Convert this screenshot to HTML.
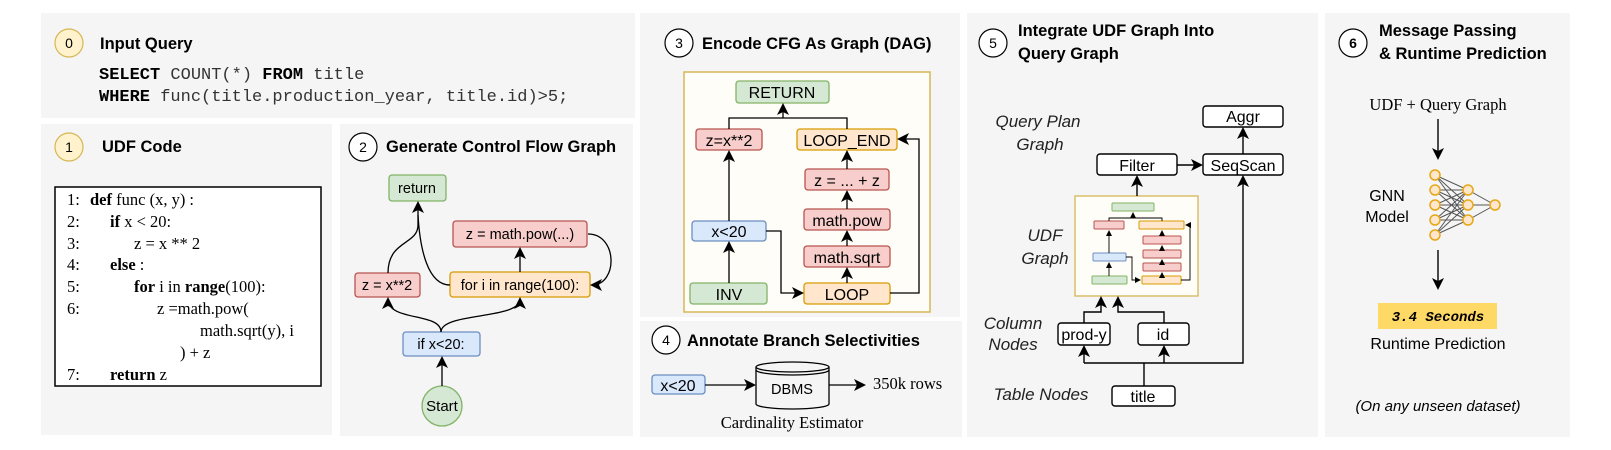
<!DOCTYPE html>
<html><head><meta charset="utf-8"><style>
html,body{margin:0;padding:0;background:#fff;width:1611px;height:450px;overflow:hidden}
svg{display:block}
.t{font-family:"Liberation Sans",sans-serif}
.b{font-family:"Liberation Sans",sans-serif;font-weight:bold;font-size:16.5px}
.m{font-family:"Liberation Mono",monospace;font-size:17px;fill:#333}
.mb{font-weight:bold;fill:#000}
.s{font-family:"Liberation Serif",serif;font-size:16.5px}
.n{font-family:"Liberation Sans",sans-serif;font-size:14.5px;text-anchor:middle}
.n3{font-family:"Liberation Sans",sans-serif;font-size:16px;text-anchor:middle}
.i{font-family:"Liberation Sans",sans-serif;font-style:italic;font-size:17px;text-anchor:middle;fill:#222}
</style></head><body>
<svg width="1611" height="450" viewBox="0 0 1611 450">
<defs>
<marker id="a" markerWidth="12" markerHeight="12" refX="10" refY="6" orient="auto" markerUnits="userSpaceOnUse"><path d="M0,0 L12,6 L0,12 L3,6 z" fill="#000"/></marker>
<marker id="s" markerWidth="6" markerHeight="6" refX="5" refY="3" orient="auto" markerUnits="userSpaceOnUse"><path d="M0,0 L6,3 L0,6 z" fill="#000"/></marker>
</defs>
<g fill="#f5f5f5">
<rect x="41" y="13" width="594" height="105"/>
<rect x="41" y="124" width="291" height="311"/>
<rect x="340" y="124" width="293" height="312"/>
<rect x="640" y="13" width="320" height="304"/>
<rect x="640" y="321" width="322" height="116"/>
<rect x="967" y="13" width="351" height="424"/>
<rect x="1325" y="13" width="245" height="424"/>
</g>
<!-- panel 0 -->
<circle cx="69" cy="43" r="14" fill="#fff2cc" stroke="#d6b656" stroke-width="1.2"/>
<text x="69" y="48" class="t" font-size="14" text-anchor="middle">0</text>
<text x="100" y="49" class="b">Input Query</text>
<text x="99" y="79" class="m"><tspan class="mb">SELECT</tspan> COUNT(*) <tspan class="mb">FROM</tspan> title</text>
<text x="99" y="101" class="m"><tspan class="mb">WHERE</tspan> func(title.production_year, title.id)&gt;5;</text>
<!-- panel 1 -->
<circle cx="69" cy="147" r="14" fill="#fff2cc" stroke="#d6b656" stroke-width="1.2"/>
<text x="69" y="152" class="t" font-size="14" text-anchor="middle">1</text>
<text x="102" y="152" class="b">UDF Code</text>
<rect x="55" y="187" width="266" height="199" fill="#fff" stroke="#000" stroke-width="1.5"/>
<g class="s">
<text x="67" y="205">1:</text><text x="90" y="205"><tspan font-weight="bold">def</tspan> func (x, y) :</text>
<text x="67" y="227">2:</text><text x="110" y="227"><tspan font-weight="bold">if</tspan> x &lt; 20:</text>
<text x="67" y="249">3:</text><text x="134" y="249">z = x ** 2</text>
<text x="67" y="270">4:</text><text x="110" y="270" font-weight="bold">else <tspan font-weight="normal">:</tspan></text>
<text x="67" y="292">5:</text><text x="134" y="292"><tspan font-weight="bold">for</tspan> i in <tspan font-weight="bold">range</tspan>(100):</text>
<text x="67" y="314">6:</text><text x="157" y="314">z =math.pow(</text>
<text x="200" y="336">math.sqrt(y), i</text>
<text x="180" y="358">) + z</text>
<text x="67" y="380">7:</text><text x="110" y="380"><tspan font-weight="bold">return</tspan> z</text>
</g>
<!-- panel 2 -->
<circle cx="363" cy="147" r="14" fill="#fff" stroke="#000" stroke-width="1.2"/>
<text x="363" y="152" class="t" font-size="14" text-anchor="middle">2</text>
<text x="386" y="152" class="b">Generate Control Flow Graph</text>
<g stroke-width="1.3">
<rect x="389" y="175" width="57" height="26" rx="3" fill="#d5e8d4" stroke="#82b366"/>
<rect x="453" y="221" width="134" height="26" rx="3" fill="#f8cecc" stroke="#b85450"/>
<rect x="355" y="273" width="65" height="24" rx="3" fill="#f8cecc" stroke="#b85450"/>
<rect x="450" y="272" width="140" height="25" rx="3" fill="#ffe6cc" stroke="#d79b00"/>
<rect x="403" y="332" width="77" height="24" rx="3" fill="#dae8fc" stroke="#6c8ebf"/>
<ellipse cx="442" cy="406" rx="20" ry="20" fill="#d5e8d4" stroke="#82b366"/>
</g>
<g class="n">
<text x="417" y="193">return</text>
<text x="520" y="239">z = math.pow(...)</text>
<text x="387" y="290">z = x**2</text>
<text x="520" y="290">for i in range(100):</text>
<text x="441" y="349">if x&lt;20:</text>
<text x="442" y="411" font-size="15">Start</text>
</g>
<g fill="none" stroke="#000" stroke-width="1.3">
<path d="M442,386 V358" marker-end="url(#a)"/>
<path d="M441,332 C441,312 388,322 388,299" marker-end="url(#a)"/>
<path d="M441,332 C441,312 520,320 520,299" marker-end="url(#a)"/>
<path d="M520,272 V249" marker-end="url(#a)"/>
<path d="M388,273 C388,240 418,245 418,225 V203" marker-end="url(#a)"/>
<path d="M450,285 C428,285 420,250 418,215"/>
<path d="M588,234 C618,234 618,285 592,285" marker-end="url(#a)"/>
</g>
<!-- panel 3 -->
<circle cx="679" cy="43" r="14" fill="#fff" stroke="#000" stroke-width="1.2"/>
<text x="679" y="48" class="t" font-size="14" text-anchor="middle">3</text>
<text x="702" y="49" class="b">Encode CFG As Graph (DAG)</text>
<rect x="684" y="72" width="246" height="240" fill="#fffdf7" stroke="#d6b656" stroke-width="1.5"/>
<g stroke-width="1.3">
<rect x="736" y="81" width="93" height="22" rx="3" fill="#d5e8d4" stroke="#82b366"/>
<rect x="696" y="129" width="66" height="21" rx="3" fill="#f8cecc" stroke="#b85450"/>
<rect x="797" y="129" width="100" height="21" rx="3" fill="#ffe6cc" stroke="#d79b00"/>
<rect x="805" y="169" width="84" height="21" rx="3" fill="#f8cecc" stroke="#b85450"/>
<rect x="804" y="209" width="86" height="21" rx="3" fill="#f8cecc" stroke="#b85450"/>
<rect x="804" y="246" width="86" height="21" rx="3" fill="#f8cecc" stroke="#b85450"/>
<rect x="692" y="221" width="74" height="20" rx="3" fill="#dae8fc" stroke="#6c8ebf"/>
<rect x="690" y="283" width="77" height="21" rx="3" fill="#d5e8d4" stroke="#82b366"/>
<rect x="804" y="283" width="86" height="21" rx="3" fill="#ffe6cc" stroke="#d79b00"/>
</g>
<g class="n3">
<text x="782" y="98">RETURN</text>
<text x="729" y="146">z=x**2</text>
<text x="847" y="146">LOOP_END</text>
<text x="847" y="186">z = ... + z</text>
<text x="847" y="226">math.pow</text>
<text x="847" y="263">math.sqrt</text>
<text x="729" y="237">x&lt;20</text>
<text x="729" y="300">INV</text>
<text x="847" y="300">LOOP</text>
</g>
<g fill="none" stroke="#000" stroke-width="1.3">
<path d="M729,283 V243" marker-end="url(#a)"/>
<path d="M729,221 V152" marker-end="url(#a)"/>
<path d="M729,129 V118 H847 V129"/>
<path d="M783,118 V105" marker-end="url(#a)"/>
<path d="M766,231 H781 V293 H802" marker-end="url(#a)"/>
<path d="M890,293 H919 V139 H899" marker-end="url(#a)"/>
<path d="M847,283 V269" marker-end="url(#a)"/>
<path d="M847,246 V232" marker-end="url(#a)"/>
<path d="M847,209 V192" marker-end="url(#a)"/>
<path d="M847,169 V152" marker-end="url(#a)"/>
</g>
<!-- panel 4 -->
<circle cx="666" cy="340" r="14" fill="#fff" stroke="#000" stroke-width="1.2"/>
<text x="666" y="345" class="t" font-size="14" text-anchor="middle">4</text>
<text x="687" y="346" class="b">Annotate Branch Selectivities</text>
<rect x="652" y="375" width="53" height="19" rx="3" fill="#dae8fc" stroke="#6c8ebf" stroke-width="1.3"/>
<text x="678" y="391" class="n3">x&lt;20</text>
<g fill="#f5f5f5" stroke="#000" stroke-width="1.3">
<path d="M756,367 V404 A36.5,5 0 0 0 829,404 V367"/>
<ellipse cx="792.5" cy="367" rx="36.5" ry="5"/>
<path d="M756,370 A36.5,5 0 0 0 829,370" fill="none"/>
</g>
<text x="792" y="394" class="n" font-size="12">DBMS</text>
<g fill="none" stroke="#000" stroke-width="1.3">
<path d="M705,385 H754" marker-end="url(#a)"/>
<path d="M829,385 H864" marker-end="url(#a)"/>
</g>
<text x="873" y="389" class="s" font-size="17">350k rows</text>
<text x="792" y="428" class="s" font-size="16" text-anchor="middle">Cardinality Estimator</text>
<!-- panel 5 -->
<circle cx="993" cy="43" r="14" fill="#fff" stroke="#000" stroke-width="1.2"/>
<text x="993" y="48" class="t" font-size="14" text-anchor="middle">5</text>
<text x="1018" y="36" class="b">Integrate UDF Graph Into</text>
<text x="1018" y="59" class="b">Query Graph</text>
<text x="1038" y="127" class="i">Query Plan</text>
<text x="1040" y="150" class="i">Graph</text>
<text x="1045" y="241" class="i">UDF</text>
<text x="1045" y="264" class="i">Graph</text>
<text x="1013" y="329" class="i">Column</text>
<text x="1013" y="350" class="i">Nodes</text>
<text x="1041" y="400" class="i">Table Nodes</text>
<g fill="#fff" stroke="#000" stroke-width="1.4">
<rect x="1203" y="106" width="80" height="21" rx="3"/>
<rect x="1203" y="154" width="80" height="21" rx="3"/>
<rect x="1097" y="154" width="80" height="21" rx="3"/>
<rect x="1058" y="323" width="52" height="22" rx="3"/>
<rect x="1138" y="323" width="51" height="22" rx="3"/>
<rect x="1112" y="386" width="63" height="20" rx="3"/>
</g>
<g class="n3">
<text x="1243" y="122">Aggr</text>
<text x="1243" y="171">SeqScan</text>
<text x="1137" y="171">Filter</text>
<text x="1084" y="340">prod-y</text>
<text x="1163" y="340">id</text>
<text x="1143" y="402">title</text>
</g>
<rect x="1075" y="196" width="123" height="100" fill="#fffdf7" stroke="#d6b656" stroke-width="1.3"/>
<g stroke-width="1">
<rect x="1112" y="203" width="42" height="8" rx="1" fill="#d5e8d4" stroke="#82b366"/>
<rect x="1094" y="221" width="30" height="8" rx="1" fill="#f8cecc" stroke="#b85450"/>
<rect x="1139" y="221" width="45" height="8" rx="1" fill="#ffe6cc" stroke="#d79b00"/>
<rect x="1143" y="236" width="38" height="8" rx="1" fill="#f8cecc" stroke="#b85450"/>
<rect x="1143" y="250" width="38" height="8" rx="1" fill="#f8cecc" stroke="#b85450"/>
<rect x="1143" y="263" width="38" height="8" rx="1" fill="#f8cecc" stroke="#b85450"/>
<rect x="1093" y="253" width="33" height="8" rx="1" fill="#dae8fc" stroke="#6c8ebf"/>
<rect x="1092" y="276" width="35" height="8" rx="1" fill="#d5e8d4" stroke="#82b366"/>
<rect x="1142" y="276" width="39" height="8" rx="1" fill="#ffe6cc" stroke="#d79b00"/>
</g>
<g fill="none" stroke="#000" stroke-width="0.9">
<path d="M1109,276 V263" marker-end="url(#s)"/>
<path d="M1109,253 V231" marker-end="url(#s)"/>
<path d="M1109,221 V218 H1162 V221"/>
<path d="M1133,218 V213" marker-end="url(#s)"/>
<path d="M1126,257 H1132 V280 H1140" marker-end="url(#s)"/>
<path d="M1181,280 H1190 V225 H1186" marker-end="url(#s)"/>
<path d="M1162,276 V273" marker-end="url(#s)"/>
<path d="M1162,263 V260" marker-end="url(#s)"/>
<path d="M1162,250 V246" marker-end="url(#s)"/>
<path d="M1162,236 V231" marker-end="url(#s)"/>
</g>
<g fill="none" stroke="#000" stroke-width="1.4">
<path d="M1177,165 H1201" marker-end="url(#a)"/>
<path d="M1243,154 V129" marker-end="url(#a)"/>
<path d="M1137,196 V177" marker-end="url(#a)"/>
<path d="M1144,386 V363"/>
<path d="M1084,363 H1243 V177" marker-end="url(#a)"/>
<path d="M1084,363 V347" marker-end="url(#a)"/>
<path d="M1164,363 V347" marker-end="url(#a)"/>
<path d="M1084,323 V312 H1101 V298" marker-end="url(#a)"/>
<path d="M1164,323 V312 H1118 V298" marker-end="url(#a)"/>
</g>
<!-- panel 6 -->
<circle cx="1353" cy="43" r="14" fill="#fff" stroke="#000" stroke-width="1.2"/>
<text x="1353" y="48" class="t" font-size="14" text-anchor="middle" font-weight="bold">6</text>
<text x="1379" y="36" class="b">Message Passing</text>
<text x="1379" y="59" class="b">&amp; Runtime Prediction</text>
<text x="1438" y="110" class="s" font-size="14" text-anchor="middle">UDF + Query Graph</text>
<g fill="none" stroke="#000" stroke-width="1.4">
<path d="M1438,119 V158" marker-end="url(#a)"/>
<path d="M1438,250 V288" marker-end="url(#a)"/>
</g>
<text x="1387" y="201" class="t" font-size="16" text-anchor="middle">GNN</text>
<text x="1387" y="222" class="t" font-size="16" text-anchor="middle">Model</text>
<g stroke="#555" stroke-width="1">
<path d="M1435,175 L1468,190 M1435,175 L1468,205 M1435,175 L1468,220 M1435,190 L1468,190 M1435,190 L1468,205 M1435,190 L1468,220 M1435,205 L1468,190 M1435,205 L1468,205 M1435,205 L1468,220 M1435,220 L1468,190 M1435,220 L1468,205 M1435,220 L1468,220 M1435,235 L1468,190 M1435,235 L1468,205 M1435,235 L1468,220 M1468,190 L1495,205 M1468,205 L1495,205 M1468,220 L1495,205"/>
</g>
<g fill="#ffe6cc" stroke="#e6a817" stroke-width="1.5">
<circle cx="1435" cy="175" r="5"/><circle cx="1435" cy="190" r="5"/><circle cx="1435" cy="205" r="5"/><circle cx="1435" cy="220" r="5"/><circle cx="1435" cy="235" r="5"/>
<circle cx="1468" cy="190" r="5"/><circle cx="1468" cy="205" r="5"/><circle cx="1468" cy="220" r="5"/>
<circle cx="1495" cy="205" r="5"/>
</g>
<rect x="1378" y="303" width="119" height="26" fill="#ffd966"/>
<text x="1438" y="321" font-family="Liberation Mono,monospace" font-size="14" font-weight="bold" font-style="italic" text-anchor="middle">3.4 Seconds</text>
<text x="1438" y="349" class="t" font-size="16" text-anchor="middle">Runtime Prediction</text>
<text x="1438" y="411" class="t" font-size="15" font-style="italic" text-anchor="middle">(On any unseen dataset)</text>
</svg>
</body></html>
